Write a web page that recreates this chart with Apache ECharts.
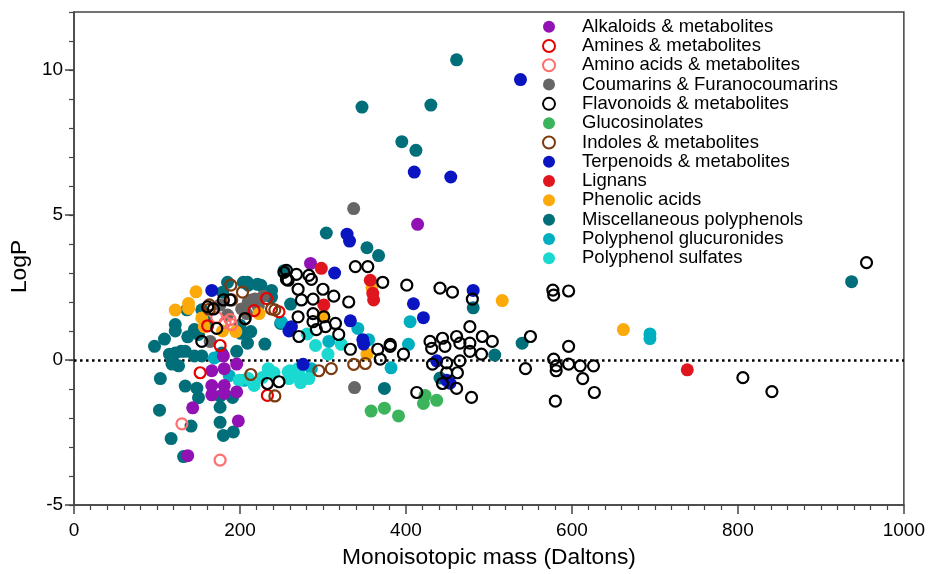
<!DOCTYPE html>
<html><head><meta charset="utf-8">
<script src="https://cdn.jsdelivr.net/npm/echarts@6/dist/echarts.min.js"></script>
<style>html,body{margin:0;padding:0;background:#fff}#c{width:928px;height:574px}</style>
</head><body><div id="c"></div>
<script>
const seriesNames = ["Alkaloids & metabolites","Amines & metabolites","Amino acids & metabolites","Coumarins & Furanocoumarins","Flavonoids & metabolites","Glucosinolates","Indoles & metabolites","Terpenoids & metabolites","Lignans","Phenolic acids","Miscellaneous polyphenols","Polyphenol glucuronides","Polyphenol sulfates"];
const xTicks = [0,200,400,600,800,1000];
const yTicks = [-5,0,5,10];

const alkaloids = [[414,4.68],[285,3.33],[180,0.14],[196,-0.14],[166,-0.37],[181,-0.3],[166,-0.88],[181,-0.88],[196,-1.1],[166,-1.2],[181,-1.15],[143,-1.65],[198,-2.1],[137,-3.3]];
const amines = [[161,1.18],[176,0.5],[152,-0.44],[217,1.7],[232,2.12],[247,1.66],[233,-1.22]];
const aminoAcids = [[172,1.47],[188,1.39],[190,1.22],[182,1.3],[130,-2.2],[176,-3.45]];
const coumarins = [[176,1.9],[164,0.64],[202,1.76],[214,2.07],[208,1.6],[222,1.85],[218,2.1],[185,1.55],[210,2.0],[228,2.2],[337,5.22],[338,-0.95]];
const flavonoids = [[256,2.78],[268,2.95],[256,3.09],[283,2.92],[286,2.78],[270,2.44],[300,2.44],[313,2.2],[331,2.0],[288,2.1],[274,2.07],[270,1.49],[288,1.6],[288,1.32],[301,1.49],[315,1.26],[303,1.15],[319,0.88],[271,0.81],[292,1.05],[333,0.37],[339,3.22],[354,3.22],[372,2.68],[401,2.58],[366,0.37],[381,0.54],[369,0.03],[397,0.2],[233,-0.81],[247,-0.75],[168,1.76],[180,2.07],[188,2.07],[206,1.43],[154,0.64],[172,1.09],[253,3.02],[258,2.75],[161,1.83],[441,2.48],[456,2.34],[480,2.1],[477,1.15],[492,0.81],[504,0.64],[429,0.64],[444,0.75],[461,0.81],[465,0.58],[431,0.4],[447,0.47],[477,0.58],[477,0.3],[491,0.2],[432,-0.14],[449,-0.1],[465,-0.03],[449,-0.44],[462,-0.44],[444,-0.81],[461,-0.98],[413,-1.12],[479,-1.29],[381,0.47],[577,2.41],[578,2.24],[596,2.38],[550,0.81],[596,0.47],[578,0.03],[544,-0.3],[581,-0.37],[581,-0.2],[596,-0.14],[610,-0.2],[613,-0.64],[626,-0.2],[627,-1.12],[580,-1.42],[806,-0.61],[841,-1.09],[955,3.36]];
const glucosinolates = [[358,-1.76],[374,-1.66],[391,-1.93],[423,-1.22],[421,-1.5],[437,-1.39]];
const indoles = [[189,2.58],[203,2.34],[163,1.9],[163,1.75],[190,2.07],[206,1.42],[238,1.76],[242,1.73],[295,-0.37],[310,-0.3],[337,-0.15],[351,-0.12],[213,-0.5],[242,-1.24]];
const terpenoids = [[538,9.67],[410,6.48],[454,6.31],[329,4.34],[332,4.1],[314,3.0],[262,1.15],[259,1.0],[333,1.35],[348,0.7],[349,0.55],[276,-0.15],[409,1.94],[421,1.46],[481,2.4],[437,-0.03],[453,-0.8],[449,-0.7],[166,2.4]];
const lignans = [[298,3.16],[357,2.75],[360,2.3],[361,2.07],[301,1.9],[739,-0.34]];
const phenolicAcids = [[147,2.35],[138,1.95],[138,1.78],[122,1.72],[154,1.45],[157,1.15],[179,1.0],[195,0.98],[223,1.6],[300,1.56],[359,2.5],[353,0.2],[516,2.05],[662,1.05]];
const miscPolyphenols = [[461,10.35],[347,8.72],[430,8.79],[395,7.53],[412,7.23],[304,4.38],[353,3.87],[367,3.6],[937,2.7],[481,1.8],[441,-0.62],[507,0.17],[540,0.58],[374,-0.98],[253,3.08],[97,0.47],[109,0.72],[122,1.22],[122,1.0],[136,1.73],[137,0.8],[150,0.88],[115,0.2],[129,0.3],[145,0.14],[154,0.14],[126,-0.2],[118,-0.14],[104,-0.64],[134,-0.9],[148,-0.97],[150,-1.3],[103,-1.73],[176,-1.25],[176,-1.63],[191,-1.29],[141,-2.28],[176,-2.15],[180,-2.6],[192,-2.48],[117,-2.71],[132,-3.33],[122,0.24],[134,0.3],[178,0.24],[196,0.3],[201,0.92],[209,0.58],[185,2.68],[209,2.68],[221,2.61],[179,2.34],[210,2.58],[225,2.58],[238,2.17],[261,1.93],[154,1.73],[204,2.68],[238,2.4],[249,1.26],[213,0.98],[160,1.3],[145,1.05],[200,1.2],[230,0.55]];
const glucuronides = [[405,1.32],[403,0.54],[382,-0.27],[694,0.9],[694,0.74],[342,1.09],[307,0.64],[355,0.7],[169,0.07],[187,-0.54],[205,-0.7],[250,1.3],[286,-0.3]];
const sulfates = [[241,-0.44],[258,-0.41],[270,-0.3],[210,-0.64],[217,-0.88],[199,-0.7],[227,-0.6],[260,-0.37],[259,-0.64],[271,-0.47],[273,-0.78],[283,-0.64],[291,0.5],[306,0.2],[322,0.54],[281,0.9],[234,-0.3]];

const dataSets = [alkaloids,amines,aminoAcids,coumarins,flavonoids,glucosinolates,indoles,terpenoids,lignans,phenolicAcids,miscPolyphenols,glucuronides,sulfates];
const colors = ['#9111b5','#e60000','#ff6f6f','#666666','#000000','#3bb45c','#7b3a10','#0a14c0','#e0161e','#fca90a','#006f7a','#00afbf','#1ad9d1'];
const hollow = [false,true,true,false,true,false,true,false,false,false,false,false,false];
// drawing order (back to front)
const drawOrder = [10,11,12,5,3,9,0,7,8,2,1,6,4];

const series = drawOrder.map((i, k) => ({
  name: seriesNames[i],
  type: 'scatter',
  data: dataSets[i],
  symbol: 'circle',
  symbolSize: hollow[i] ? 11 : 13,
  z: 3 + k,
  itemStyle: hollow[i]
    ? { color: 'rgba(255,255,255,0)', borderColor: colors[i], borderWidth: 2.2, opacity: 1 }
    : { color: colors[i], opacity: 1 },
  emphasis: { disabled: true }
}));
series.unshift({
  type: 'scatter', data: [], z: 1, silent: true,
  markLine: {
    silent: true, symbol: 'none', z: 1,
    label: { show: false },
    lineStyle: { color: '#000', width: 2.5, type: [2.5, 3.5] },
    data: [{ yAxis: 0 }]
  }
});

const axisColor = '#444';
const font = 'Liberation Sans, Arial, sans-serif';
const chart = echarts.init(document.getElementById('c'), null, { renderer: 'canvas' });
chart.setOption({
  animation: false,
  backgroundColor: '#fff',
  grid: { left: 71, right: 20, top: 12, bottom: 62, show: true, borderColor: axisColor, borderWidth: 1.5, backgroundColor: 'transparent' },
  legend: {
    orient: 'vertical', left: 537, top: 12,
    itemWidth: 56, itemHeight: 12, itemGap: 0, symbolKeepAspect: true,
    selectedMode: false,
    data: seriesNames.map(n => ({ name: n, icon: 'circle' })),
    textStyle: { fontFamily: font, fontSize: 18.5, color: '#000', lineHeight: 19.3 }
  },
  xAxis: {
    type: 'value', min: xTicks[0], max: xTicks[xTicks.length-1], interval: 200,
    name: 'Monoisotopic mass (Daltons)', nameLocation: 'middle', nameGap: 41,
    nameTextStyle: { fontFamily: font, fontSize: 22.8, color: '#000' },
    axisLine: { show: true, onZero: false, lineStyle: { color: axisColor, width: 1.5 } },
    axisTick: { show: true, length: 9, lineStyle: { color: axisColor, width: 1.5 } },
    minorTick: { show: true, splitNumber: 10, length: 5, lineStyle: { color: axisColor, width: 1.2 } },
    axisLabel: { margin: 16, fontFamily: font, fontSize: 19, color: '#000',
      formatter: v => xTicks.includes(v) ? String(v) : '' },
    splitLine: { show: false }
  },
  yAxis: [{
    type: 'value', min: -5, max: 12, interval: 5,
    name: 'LogP', nameLocation: 'middle', nameGap: 33, nameRotate: 90,
    nameTextStyle: { fontFamily: font, fontSize: 22.8, color: '#000', padding: [0, 16, 0, 0] },
    axisLine: { show: true, onZero: false, lineStyle: { color: axisColor, width: 1.5 } },
    axisTick: { show: true, length: 9, lineStyle: { color: axisColor, width: 1.5 } },
    axisLabel: { margin: 11, showMaxLabel: false, fontFamily: font, fontSize: 19, color: '#000',
      formatter: v => yTicks.includes(v) ? String(v) : '' },
    splitLine: { show: false }
  }, {
    type: 'value', min: -5, max: 12, interval: 1, position: 'left', offset: 0,
    axisLine: { show: false }, axisLabel: { show: false }, splitLine: { show: false },
    axisTick: { show: true, length: 5, lineStyle: { color: axisColor, width: 1.2 } }
  }],
  series: series
});
</script></body></html>
